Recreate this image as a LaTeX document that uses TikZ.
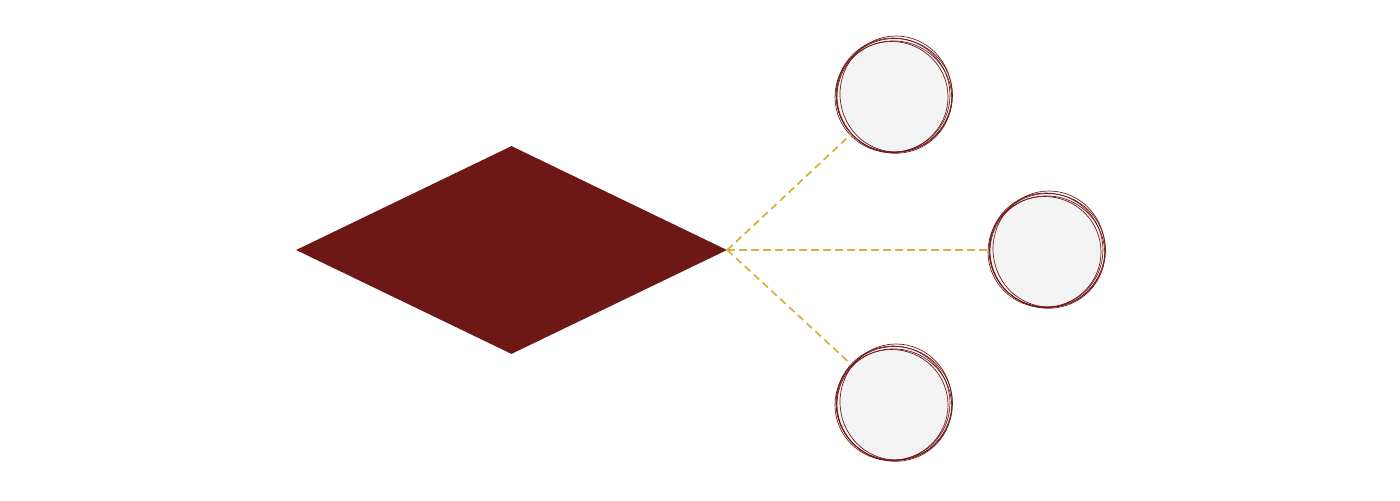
\documentclass[tikz,border=0pt]{standalone}
\usetikzlibrary{shapes.geometric}
\definecolor{wine}{RGB}{109,23,23}
\definecolor{gold}{RGB}{212,178,62}
\definecolor{paper}{RGB}{243,243,243}

\begin{document}
\begin{tikzpicture}[x=0.75pt,y=0.75pt,yscale=-1,xscale=1]
\tikzset{
  bubble/.style={circle,fill=paper,draw=wine,line width=0.5pt,minimum size=85.5pt,inner sep=0pt},
  ring/.style={draw=wine,line width=0.5pt},
  link/.style={draw=gold,line width=1.3pt,dash pattern=on 5.5pt off 3.5pt}
}
\useasboundingbox (0,0) rectangle (1400,500);

% Diamond
\node [diamond,fill=wine,inner sep=0pt,minimum width=323.25pt,minimum height=156pt] (dia) at (511.5,250) {};

% Circles
\node [bubble] (top) at (893,95) {};
\node [bubble] (mid) at (1046,250) {};
\node [bubble] (bot) at (893,403) {};

% sketchy outlines
\foreach \n/\cx/\cy in {top/893/95,mid/1046/250,bot/893/403}{
  \draw [ring] (\cx+3,\cy-1) ellipse (56 and 58);
  \draw [ring] (\cx-1.5,\cy+2) ellipse (56.5 and 55.5);
  \draw [ring] (\cx+1.5,\cy+0.5) ellipse (58 and 57);
  \draw [ring,rotate around={20:(\cx,\cy)}] (\cx+2,\cy+1.5) ellipse (57.5 and 56);
}

% Dashed links
\draw [link] (dia.east) -- (top);
\draw [link] (dia.east) -- (mid);
\draw [link] (dia.east) -- (bot);

\end{tikzpicture}
\end{document}
